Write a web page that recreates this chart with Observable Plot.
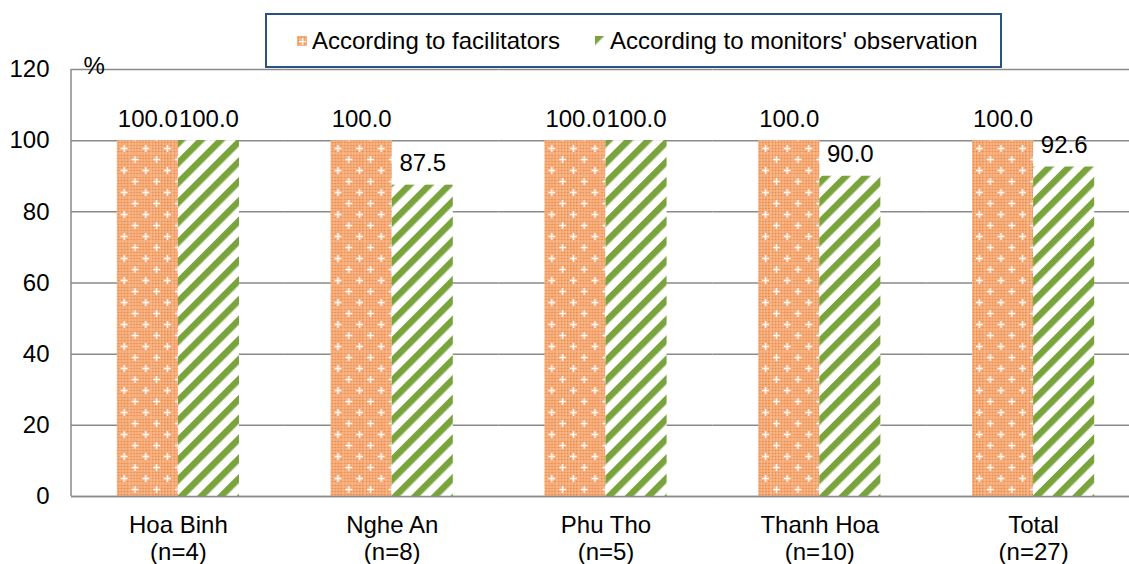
<!DOCTYPE html>
<html>
<head>
<meta charset="utf-8">
<script src="https://cdn.jsdelivr.net/npm/d3@7"></script>
<script src="https://cdn.jsdelivr.net/npm/@observablehq/plot@0.6"></script>
<style>
  html, body { margin: 0; padding: 0; background: #fff; overflow: hidden; }
  #wrap { position: relative; width: 1129px; height: 564px; overflow: hidden; font-family: "Liberation Sans", Arial, sans-serif; }
  #chart svg { max-width: none !important; }
  #legend { position: absolute; left: 265px; top: 13px; width: 733px; height: 51px; border: 2px solid #2C5283; background: #fff;
            display: flex; align-items: center; font-size: 24px; color: #000; box-sizing: content-box; }
  #legend .item { display: flex; align-items: center; }
  #legend svg { margin-right: 5px; }
</style>
</head>
<body>
<svg width="0" height="0" style="position:absolute">
  <defs>
    <pattern id="dots" width="3" height="3" patternUnits="userSpaceOnUse">
      <rect width="3" height="3" fill="#F8C29D"></rect>
      <rect x="0.5" y="0.5" width="2" height="2" fill="#EF8840"></rect>
    </pattern>
    <pattern id="orangePat" width="21.6" height="22" patternUnits="userSpaceOnUse">
      <rect width="21.6" height="22" fill="url(#dots)"></rect>
      <path d="M5.4,2V9M1.9,5.5H8.9M16.2,13V20M12.7,16.5H19.7" stroke="#fff" stroke-width="1.5" stroke-opacity="0.95"></path>
    </pattern>
    <pattern id="greenPat" width="14" height="14" patternUnits="userSpaceOnUse" patternTransform="rotate(45)">
      <rect width="14" height="14" fill="#fff"></rect>
      <rect x="0" width="6.5" height="14" fill="#79A43C"></rect>
    </pattern>
  </defs>
</svg>
<div id="wrap">
  <div id="chart"></div>
  <div id="legend"></div>
</div>
<script>
const regions = ["Hoa Binh", "Nghe An", "Phu Tho", "Thanh Hoa", "Total"];
const sampleSizes = [4, 8, 5, 10, 27];
const series = ["According to facilitators", "According to monitors' observation"];
const facilitators = [100.0, 100.0, 100.0, 100.0, 100.0];
const monitors = [100.0, 87.5, 100.0, 90.0, 92.6];
const yTicks = [0, 20, 40, 60, 80, 100, 120];
const fills = ["url(#orangePat)", "url(#greenPat)"];

const data = [];
regions.forEach((r, i) => {
  data.push({region: r, series: series[0], value: facilitators[i]});
  data.push({region: r, series: series[1], value: monitors[i]});
});
const nOf = Object.fromEntries(regions.map((r, i) => [r, sampleSizes[i]]));

const font = "Liberation Sans, Arial, sans-serif";
const chart = Plot.plot({
  width: 1140,
  height: 564,
  marginLeft: 71,
  marginRight: 0,
  marginTop: 69,
  marginBottom: 68,
  style: {fontFamily: font, fontSize: "24px", color: "#000", background: "transparent", overflow: "visible", maxWidth: "none"},
  fx: {domain: regions, paddingInner: 0, paddingOuter: 0, round: false, axis: null},
  x: {domain: series, paddingInner: 0, paddingOuter: 0.75, round: false, axis: null},
  y: {domain: [0, 120], axis: null},
  color: {domain: series, range: fills},
  marks: [
    Plot.gridY(yTicks, {stroke: "#8a8a8a", strokeOpacity: 1, strokeWidth: 1.5}),
    Plot.barY(data, {fx: "region", x: "series", y: "value", fill: "series"}),
    Plot.ruleY([0], {stroke: "#8a8a8a", strokeWidth: 1.5}),
    Plot.text(data, {fx: "region", x: "series", y: "value", text: d => d.value.toFixed(1),
      lineAnchor: "bottom", dy: -14, fill: "#000", fontSize: 24}),
    Plot.axisY(yTicks, {tickSize: 0, tickPadding: 22, fontSize: 24, label: null, fill: "#000"}),
    Plot.axisFx({anchor: "bottom", tickSize: 0, tickPadding: 18, fontSize: 24, lineHeight: 1.1, label: null,
      tickFormat: r => `${r}\n(n=${nOf[r]})`, fill: "#000"}),
    Plot.text(["%"], {fx: () => regions[0], frameAnchor: "top-left", textAnchor: "start", lineAnchor: "middle", dx: 12, dy: -3, fontSize: 24, fill: "#000"})
  ]
});
document.getElementById("chart").appendChild(chart);

// left axis line, drawn with the plot's y scale
const ys = chart.scale("y");
const svg = d3.select(chart);
svg.append("line")
  .attr("x1", 71).attr("x2", 71)
  .attr("y1", ys.apply(0)).attr("y2", ys.apply(120))
  .attr("stroke", "#8a8a8a").attr("stroke-width", 1.5);

// legend
const legend = d3.select("#legend");
legend.append("div").style("width", "30px");
series.forEach((s, i) => {
  const item = legend.append("div").attr("class", "item").style("margin-right", i === 0 ? "35px" : "0");
  item.append("svg").attr("width", 10).attr("height", 10)
    .append("rect").attr("width", 10).attr("height", 10).attr("fill", fills[i]);
  item.append("span").text(s);
});
</script>
</body>
</html>
